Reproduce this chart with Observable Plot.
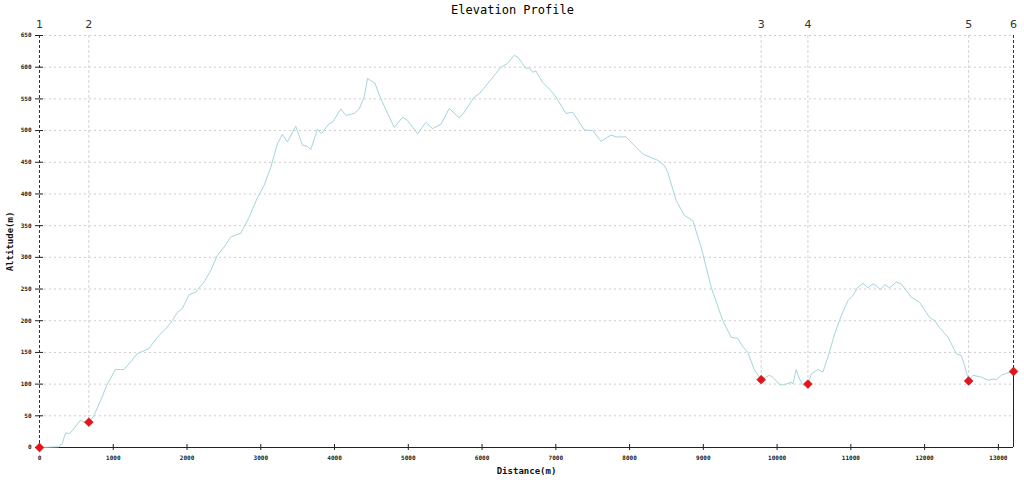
<!DOCTYPE html>
<html><head><meta charset="utf-8">
<script src="https://cdn.jsdelivr.net/npm/d3@7"></script>
<script src="https://cdn.jsdelivr.net/npm/@observablehq/plot@0.6"></script>
<style>body{margin:0;background:#fff} svg{display:block}</style>
</head><body><div id="chart"></div>
<script>
const distances = [0,258,308,353,411,556,601,669,737,828,918,1031,1144,1235,1325,1483,1597,1710,1800,1868,1936,2027,2117,2230,2320,2411,2501,2592,2728,2841,2954,3044,3135,3225,3293,3361,3474,3565,3633,3678,3768,3822,3926,3972,4085,4153,4266,4334,4402,4447,4546,4628,4809,4922,4990,5126,5239,5329,5442,5555,5691,5758,5894,5962,6075,6256,6347,6437,6491,6595,6640,6686,6730,6821,6934,7002,7138,7229,7387,7500,7613,7749,7817,7952,8043,8179,8382,8472,8518,8631,8744,8857,8970,9106,9264,9377,9468,9536,9603,9693,9784,9897,9942,10036,10100,10191,10214,10259,10305,10350,10418,10463,10553,10621,10689,10780,10870,10961,11029,11096,11164,11232,11300,11345,11403,11458,11526,11616,11684,11820,11932,12068,12136,12204,12317,12430,12498,12543,12597,12656,12769,12860,12928,12973,13041,13109,13205];
const altitudes = [0,1,6,23,22,43,40,40,50,74,100,123,123,135,148,156,174,187,200,213,219,241,245,261,279,303,316,332,338,363,394,413,442,479,494,482,507,477,475,470,502,495,511,513,534,524,527,534,553,582,575,550,505,521,516,495,513,503,510,535,520,529,553,558,574,600,606,619,615,598,599,592,594,576,563,553,527,529,501,500,483,493,490,490,479,463,453,445,434,390,366,358,316,253,200,174,172,159,150,122,107,114,111,99,99,103,100,123,108,98,100,116,123,119,143,179,208,232,240,253,259,252,258,255,249,257,252,261,258,237,229,205,200,189,174,148,145,129,105,114,111,106,108,107,114,117,120];
const waypointNames = ["1","2","3","4","5","6"];
const waypointDistances = [0,669,9784,10418,12597,13205];
const waypointAltitudes = [0,40,107,100,105,120];
const xTicks = [0,1000,2000,3000,4000,5000,6000,7000,8000,9000,10000,11000,12000,13000];
const yTicks = [0,50,100,150,200,250,300,350,400,450,500,550,600,650];
const title = "Elevation Profile";
const xLabel = "Distance(m)";
const yLabel = "Altitude(m)";

const profile = distances.map((d, i) => ({d, a: altitudes[i]}));
const waypoints = waypointNames.map((n, i) => ({n, d: waypointDistances[i], a: waypointAltitudes[i]}));
const xMax = distances[distances.length - 1];
const yMax = yTicks[yTicks.length - 1];
const plotW = 1024 - 39 - 11, plotH = 480 - 35 - 33;
const pxY = yMax / plotH;
const pxX = xMax / plotW;
const mono = "DejaVu Sans Mono";

const chart = Plot.plot({
  width: 1024, height: 480,
  marginLeft: 39, marginRight: 11, marginTop: 35, marginBottom: 33,
  x: {domain: [0, xMax], axis: null},
  y: {domain: [0, yMax], axis: null},
  style: {fontFamily: mono, background: "#fff", color: "#222"},
  marks: [
    Plot.ruleY(yTicks.filter(v => v > 0), {y: d => d, x1: 0, x2: xMax, stroke: "#cccccc", strokeDasharray: "2,3"}),
    Plot.ruleX(waypoints.slice(1, -1), {x: "d", y1: yMax, y2: "a", stroke: "#d2d2d2", strokeDasharray: "3,2"}),
    Plot.ruleX([waypoints[0], waypoints[waypoints.length - 1]], {x: "d", y1: yMax, y2: "a", stroke: "#333", strokeDasharray: "3,2"}),
    Plot.ruleX([waypoints[waypoints.length - 1]], {x: "d", y1: "a", y2: 0, stroke: "#222"}),
    Plot.ruleY([0], {x1: 0, x2: xMax, stroke: "#222"}),
    Plot.ruleX(xTicks, {x: d => d, y1: -3 * pxY, y2: 3 * pxY, stroke: "#222"}),
    Plot.ruleY(yTicks, {y: d => d, x1: -4 * pxX, x2: 4 * pxX, stroke: "#222"}),
    Plot.line(profile, {x: "d", y: "a", stroke: "#a3d5dc", strokeWidth: 1}),
    Plot.dot(waypoints, {x: "d", y: "a", symbol: "diamond2", r: 4, fill: "#e3141c", stroke: "#c40d14", strokeWidth: 0.5}),
    Plot.axisX({ticks: xTicks, tickSize: 0, tickPadding: 8, fontSize: 6, fontWeight: "bold", tickFormat: d => String(d), label: null}),
    Plot.axisY({ticks: yTicks, tickSize: 0, tickPadding: 8, fontSize: 6, fontWeight: "bold", tickFormat: d => String(d), label: null}),
    Plot.text(waypoints, {x: "d", y: yMax, text: "n", dy: -11, fontFamily: "DejaVu Sans", fontSize: 11, fill: "#333", lineAnchor: "middle"}),
    Plot.text([title], {text: d => d, frameAnchor: "top", dy: -25, dx: -14, fontSize: 12, lineAnchor: "middle", fill: "#000"}),
    Plot.text([xLabel], {text: d => d, frameAnchor: "bottom", dy: 24, fontSize: 9, fontWeight: "bold", lineAnchor: "middle", fill: "#111"}),
    Plot.text([yLabel], {text: d => d, frameAnchor: "left", dx: -29, rotate: -90, fontSize: 9, fontWeight: "bold", lineAnchor: "middle", textAnchor: "middle", fill: "#111"})
  ]
});
document.getElementById("chart").appendChild(chart);
</script>
</body></html>
